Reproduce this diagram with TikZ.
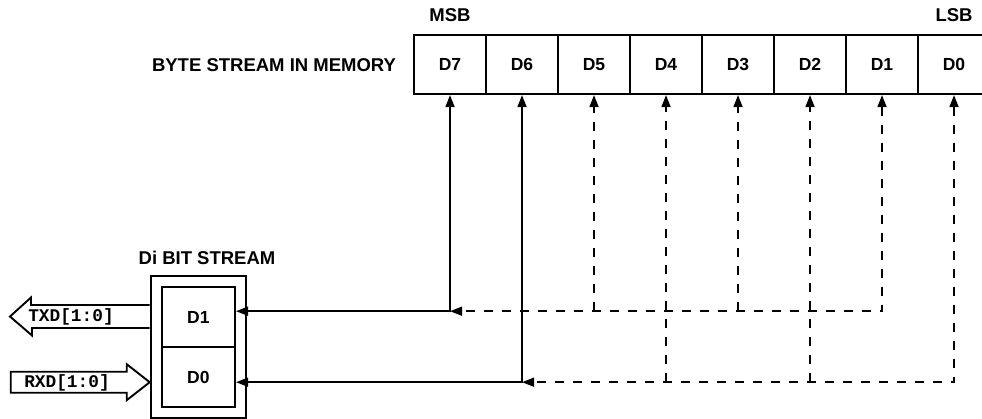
\documentclass[tikz,border=0pt]{standalone}
\usepackage{fontspec}
\setmainfont{Liberation Sans}
\newfontfamily\busfont{Liberation Mono}
\usetikzlibrary{arrows.meta,positioning,fit}

\begin{document}
\begin{tikzpicture}[
    x=1pt, y=-1pt,
    >={Triangle[length=12pt,width=9pt]},
    font=\fontsize{17.5}{20}\selectfont\bfseries,
    cell/.style={draw, line width=2.2pt, minimum width=72pt, minimum height=59pt, inner sep=0pt},
    reg/.style={draw, line width=2.2pt, minimum width=73pt, minimum height=60pt, inner sep=0pt},
    lbl/.style={inner sep=0pt, font=\fontsize{18.5}{22}\selectfont\bfseries},
    link/.style={line width=1.6pt},
    dlink/.style={line width=1.6pt, dash pattern=on 9pt off 9pt},
    bus/.style={draw, line width=1.9pt, line join=miter},
    buslbl/.style={font=\fontsize{17.8}{20}\selectfont\busfont\bfseries, inner sep=0pt}
]
\useasboundingbox (0,0) rectangle (982,419);

% byte in memory
\foreach \n [count=\i from 0] in {7,6,5,4,3,2,1,0}
    \node[cell] (b\n) at ({450+72*\i},64.5) {D\n};
\node[lbl] (bytelbl) at (274,65) {BYTE STREAM IN MEMORY};
\node[lbl, above=12pt of b7] (msb) {MSB};
\node[lbl, above=12pt of b0] (lsb) {LSB};

% di-bit register
\node[reg] (r1) at (198.4,317.2) {D1};
\node[reg] (r0) at (198.4,377.2) {D0};
\node[draw, line width=2.2pt, inner sep=10pt, fit=(r1)(r0)] (dibit) {};
\node[lbl] (dibitlbl) at (207,258) {Di BIT STREAM};

\coordinate (in1) at ([yshift=6pt]r1.east);
\coordinate (in0) at ([yshift=-5pt]r0.east);

% connections
\draw[link,<->] (in1) -| (b7.south);
\draw[link,<->] (in0) -| (b6.south);
\draw[dlink,<->] (b1.south) |- (b7.south |- in1);
\draw[dlink,<->] (b0.south) |- (b6.south |- in0);
\foreach \n in {5,3}
    \draw[dlink,->] (b\n.south |- in1) -- (b\n.south);
\foreach \n in {4,2}
    \draw[dlink,->] (b\n.south |- in0) -- (b\n.south);

% bus arrows
\coordinate (txdtip) at (10,316.5);
\coordinate (txdin) at (dibit.west |- txdtip);
\draw[bus] ([yshift=11.5pt]txdin) -- ++(-118.7,0) -- ++(0,-7.5) -- (txdtip)
    -- ++(22,19) -- ++(0,-7.5) -- ([yshift=-11.5pt]txdin);
\coordinate (rxdtip) at (dibit.west |- in0);
\draw[bus] (rxdtip) -- ++(-23,-18) -- ++(0,7.5) -- ++(-116,0) -- ++(0,21)
    -- ++(116,0) -- ++(0,7.5) -- cycle;
\node[buslbl] (txd) at (71,317) {TXD[1:0]};
\node[buslbl] (rxd) at (67,383) {RXD[1:0]};
\end{tikzpicture}
\end{document}
